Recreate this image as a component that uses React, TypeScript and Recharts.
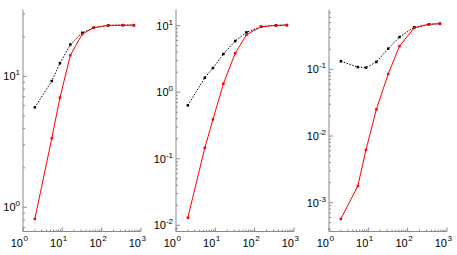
import React from 'react';
import { LineChart, Line, XAxis, YAxis } from 'recharts';

// x positions (shared by all panels)
const X_VALUES = [2, 5.4, 8.7, 16, 32, 62, 146, 346, 660];

// panel 1
const P1_RED = [0.815, 3.37, 6.87, 14.5, 21.0, 23.5, 24.5, 24.6, 24.6];
const P1_BLACK = [5.8, 9.2, 12.6, 17.5, 21.5, 23.5, 24.5, 24.6, 24.6];
// panel 2
const P2_RED = [0.013, 0.146, 0.39, 1.34, 3.85, 7.3, 9.66, 10.1, 10.2];
const P2_BLACK = [0.635, 1.65, 2.31, 3.75, 5.89, 7.95, 9.66, 10.1, 10.2];
// panel 3
const P3_RED = [0.00057, 0.00178, 0.0062, 0.0251, 0.085, 0.223, 0.416, 0.473, 0.483];
const P3_BLACK = [0.132, 0.108, 0.106, 0.129, 0.204, 0.305, 0.427, 0.473, 0.483];

const X_DOMAIN: [number, number] = [1, 1000];
const Y_DOMAINS: [number, number][] = [
  [0.653, 32.4],
  [0.00807, 17.5],
  [0.00037, 0.789],
];

const PLOT_LEFTS = [23, 176, 329];
const PLOT_W = 118;
const Y_AXIS_W = 25;
const RIGHT_M = 8;
const TOP_M = 9.5;
const X_AXIS_H = 23.5;
const H = 255;

const AXIS_COLOR = '#8a8a8a';
const FONT = '"Liberation Sans", Arial, Helvetica, sans-serif';

function logTicks(lo: number, hi: number): number[] {
  const out: number[] = [];
  const e0 = Math.floor(Math.log10(lo));
  const e1 = Math.ceil(Math.log10(hi));
  for (let e = e0; e <= e1; e++) {
    for (let m = 1; m < 10; m++) {
      const v = m * Math.pow(10, e);
      if (v >= lo * 0.9999 && v <= hi * 1.0001) out.push(v);
    }
  }
  return out;
}

function isMajor(v: number) {
  const l = Math.log10(v);
  return Math.abs(l - Math.round(l)) < 1e-6;
}

function makeTick(side: 'bottom' | 'top' | 'left' | 'right') {
  return (props: any) => {
    const { x, y, payload, index } = props;
    const v = payload.value;
    const major = isMajor(v);
    const exp = Math.round(Math.log10(v));
    const len = major ? 4 : 2;
    let line;
    if (side === 'bottom') line = <line x1={x} y1={y} x2={x} y2={y - len} stroke={AXIS_COLOR} strokeWidth={1} />;
    else if (side === 'top') line = <line x1={x} y1={y} x2={x} y2={y + len} stroke={AXIS_COLOR} strokeWidth={1} />;
    else if (side === 'left') line = <line x1={x} y1={y} x2={x + len} y2={y} stroke={AXIS_COLOR} strokeWidth={1} />;
    else line = <line x1={x} y1={y} x2={x - len} y2={y} stroke={AXIS_COLOR} strokeWidth={1} />;
    let label = null;
    if (major && side === 'bottom') {
      label = (
        <g>
          <text x={x} y={y + 15.5} textAnchor="end" fontSize={11} fontFamily={FONT} fill="#000">10</text>
          <text x={x + 0.5} y={y + 9.5} textAnchor="start" fontSize={8} fontFamily={FONT} fill="#000">{String(exp)}</text>
        </g>
      );
    } else if (major && side === 'left') {
      label = (
        <text x={x - 3} y={y + 4} textAnchor="end" fontSize={11} fontFamily={FONT} fill="#000">
          <tspan>10</tspan>
          <tspan dy={-5} fontSize={8}>{String(exp)}</tspan>
        </text>
      );
    }
    return (
      <g key={`${side}-${index}`}>
        {line}
        {label}
      </g>
    );
  };
}

const squareDot = (color: string, s: number) => (p: any) => (
  <rect key={`d-${p.index}`} x={p.cx - s / 2} y={p.cy - s / 2} width={s} height={s} fill={color} stroke="none" />
);

function Panel({ idx, red, black }: { idx: number; red: number[]; black: number[] }) {
  const data = X_VALUES.map((x, i) => ({ x, red: red[i], black: black[i] }));
  const yDomain = Y_DOMAINS[idx];
  const xTicks = logTicks(X_DOMAIN[0], X_DOMAIN[1]);
  const yTicks = logTicks(yDomain[0], yDomain[1]);
  const left = PLOT_LEFTS[idx] - Y_AXIS_W;
  const width = Y_AXIS_W + PLOT_W + RIGHT_M;
  return (
    <div style={{ position: 'absolute', left, top: 0, width, height: H }}>
      <LineChart width={width} height={H} data={data} margin={{ top: TOP_M, right: RIGHT_M, bottom: 0, left: 0 }}>
        <XAxis
          dataKey="x"
          type="number"
          scale="log"
          domain={X_DOMAIN}
          allowDataOverflow
          ticks={xTicks}
          interval={0}
          height={X_AXIS_H}
          tickSize={0}
          tickMargin={0}
          tickLine={false}
          axisLine={{ stroke: AXIS_COLOR }}
          tick={makeTick('bottom')}
        />
        <XAxis
          xAxisId="top"
          orientation="top"
          dataKey="x"
          type="number"
          scale="log"
          domain={X_DOMAIN}
          allowDataOverflow
          ticks={xTicks}
          interval={0}
          height={0}
          tickSize={0}
          tickMargin={0}
          tickLine={false}
          axisLine={{ stroke: AXIS_COLOR }}
          tick={makeTick('top')}
        />
        <YAxis
          type="number"
          scale="log"
          domain={yDomain}
          allowDataOverflow
          ticks={yTicks}
          interval={0}
          width={Y_AXIS_W}
          tickSize={0}
          tickMargin={0}
          tickLine={false}
          axisLine={{ stroke: AXIS_COLOR }}
          tick={makeTick('left')}
        />
        <YAxis
          yAxisId="right"
          orientation="right"
          type="number"
          scale="log"
          domain={yDomain}
          allowDataOverflow
          ticks={yTicks}
          interval={0}
          width={0}
          tickSize={0}
          tickMargin={0}
          tickLine={false}
          axisLine={{ stroke: AXIS_COLOR }}
          tick={makeTick('right')}
        />
        <Line
          dataKey="black"
          stroke="#000"
          strokeWidth={1}
          strokeDasharray="1.5 1.5"
          dot={squareDot('#000', 2.5)}
          activeDot={false}
          isAnimationActive={false}
        />
        <Line
          dataKey="red"
          stroke="#ff0000"
          strokeWidth={1}
          dot={squareDot('#ff0000', 2.5)}
          activeDot={false}
          isAnimationActive={false}
        />
      </LineChart>
    </div>
  );
}

export default function App() {
  return (
    <div style={{ position: 'absolute', left: 0, top: 0, width: 457, height: 255, background: '#fff' }}>
      <Panel idx={0} red={P1_RED} black={P1_BLACK} />
      <Panel idx={1} red={P2_RED} black={P2_BLACK} />
      <Panel idx={2} red={P3_RED} black={P3_BLACK} />
    </div>
  );
}
